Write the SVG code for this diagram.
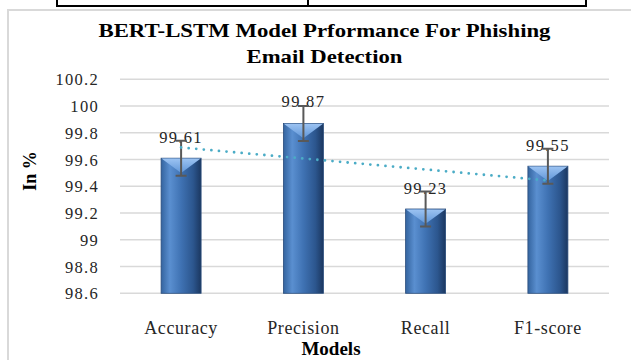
<svg xmlns="http://www.w3.org/2000/svg" width="631" height="360" viewBox="0 0 631 360">
<defs>
<style>
.grid{stroke:#d9d9d9;stroke-width:1.5;fill:none}
.tick{font-family:"Liberation Serif","Times New Roman",serif;font-size:16.5px;fill:#262626;text-anchor:end;letter-spacing:1.3px}
.cat{font-family:"Liberation Serif","Times New Roman",serif;font-size:18px;fill:#262626;text-anchor:middle;letter-spacing:0.6px}
.val{font-family:"Liberation Serif","Times New Roman",serif;font-size:16.5px;fill:#262626;text-anchor:middle;letter-spacing:1.3px}
.ttl{font-family:"Liberation Serif","Times New Roman",serif;font-size:19.5px;font-weight:bold;fill:#000;text-anchor:middle}
.axt{font-family:"Liberation Serif","Times New Roman",serif;font-size:18px;font-weight:bold;fill:#000;text-anchor:middle}
.bar{fill:url(#barG);stroke:#2a4d7c;stroke-width:0.8}
.bev{fill:url(#bevG)}
.err{stroke:#595959;stroke-width:2;fill:none}
.tbl{stroke:#000;stroke-width:2;fill:none}
</style>
<linearGradient id="barG" x1="0" y1="0" x2="1" y2="0">
<stop offset="0" stop-color="#34649f"/>
<stop offset="0.22" stop-color="#5a8fd0"/>
<stop offset="0.5" stop-color="#3f72b3"/>
<stop offset="0.8" stop-color="#2c568e"/>
<stop offset="1" stop-color="#1b3760"/>
</linearGradient>
<linearGradient id="bevG" x1="0" y1="0" x2="0" y2="1">
<stop offset="0" stop-color="#9cc3f2"/>
<stop offset="1" stop-color="#6096d8"/>
</linearGradient>
</defs>

<g id="table">
<path class="tbl" d="M57 0V6M308 0V6M586 0V6M56 6H587"/>
</g>

<g id="frame">
<rect x="8" y="10" width="700" height="400" fill="#fff" stroke="#d9d9d9" stroke-width="2"/>
</g>

<g id="title">
<text class="ttl" x="324.5" y="37" textLength="452" lengthAdjust="spacingAndGlyphs">BERT-LSTM Model Prformance For Phishing</text>
<text class="ttl" x="324.5" y="63" textLength="156" lengthAdjust="spacingAndGlyphs">Email Detection</text>
</g>

<g id="grid">
<path class="grid" d="M120 79.3H609M120 106.05H609M120 132.8H609M120 159.55H609M120 186.3H609M120 213.05H609M120 239.8H609M120 266.55H609M120 293.3H609"/>
</g>

<g id="yaxis">
<text class="tick" x="99" y="85.3">100.2</text>
<text class="tick" x="99" y="112">100</text>
<text class="tick" x="99" y="138.8">99.8</text>
<text class="tick" x="99" y="165.5">99.6</text>
<text class="tick" x="99" y="192.3">99.4</text>
<text class="tick" x="99" y="219">99.2</text>
<text class="tick" x="99" y="245.8">99</text>
<text class="tick" x="99" y="272.5">98.8</text>
<text class="tick" x="99" y="299.3">98.6</text>
<text class="axt" transform="translate(36 171) rotate(-90)">In %</text>
</g>

<g id="bar-accuracy">
<rect class="bar" x="161.1" y="158.2" width="40" height="135.1"/>
<polygon class="bev" points="161.5,158.6 200.7,158.6 181.1,173"/>
<text class="val" x="181.1" y="142.7">99.61</text>
</g>
<g id="bar-precision">
<rect class="bar" x="283.4" y="123.4" width="40" height="169.9"/>
<polygon class="bev" points="283.8,123.8 323,123.8 303.4,138.2"/>
<text class="val" x="303.4" y="107">99.87</text>
</g>
<g id="bar-recall">
<rect class="bar" x="405.6" y="209" width="40" height="84.3"/>
<polygon class="bev" points="406,209.4 445.2,209.4 425.6,223.8"/>
<text class="val" x="425.6" y="193.8">99.23</text>
</g>
<g id="bar-f1">
<rect class="bar" x="527.9" y="166.2" width="40" height="127.1"/>
<polygon class="bev" points="528.3,166.6 567.5,166.6 547.9,181"/>
<text class="val" x="547.9" y="150.5">99.55</text>
</g>

<g id="errorbars">
<path class="err" d="M181.1 140.7V175.7M175.6 140.7H186.6M175.6 175.7H186.6"/>
<path class="err" d="M303.4 105.9V140.9M297.9 105.9H308.9M297.9 140.9H308.9"/>
<path class="err" d="M425.6 191.5V226.5M420.1 191.5H431.1M420.1 226.5H431.1"/>
<path class="err" d="M547.9 148.7V183.7M542.4 148.7H553.4M542.4 183.7H553.4"/>
</g>

<g id="connectors">
<line x1="181.1" y1="147.5" x2="547.9" y2="180.5" stroke="#4bacc6" stroke-width="2.8" stroke-linecap="round" stroke-dasharray="0 7.6"/>
</g>

<g id="xaxis">
<text class="cat" x="181.1" y="334">Accuracy</text>
<text class="cat" x="303.4" y="334">Precision</text>
<text class="cat" x="425.6" y="334">Recall</text>
<text class="cat" x="547.9" y="334">F1-score</text>
<text class="axt" x="331" y="355" style="font-size:19px">Models</text>
</g>
</svg>
